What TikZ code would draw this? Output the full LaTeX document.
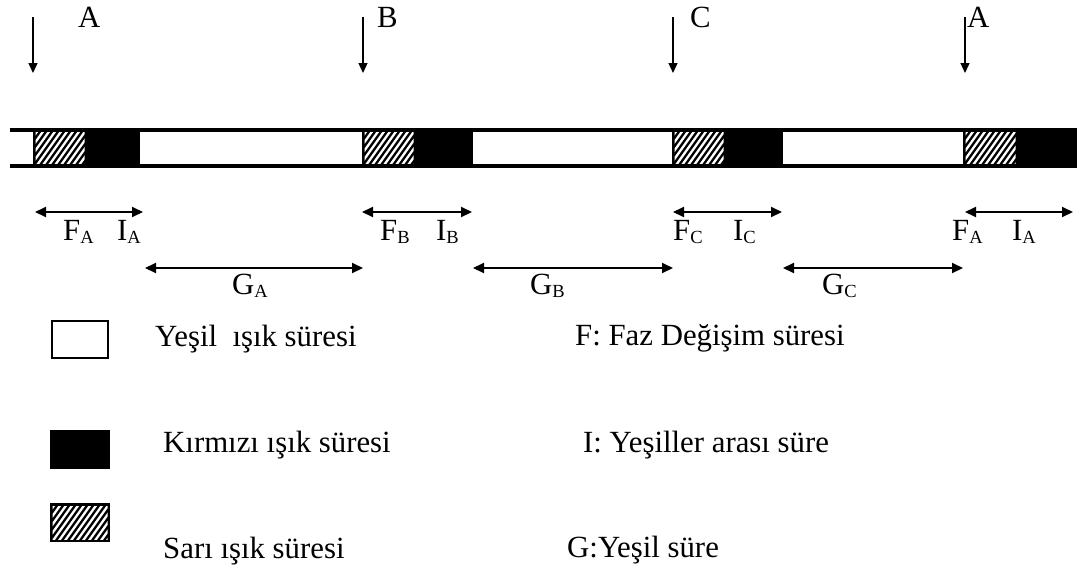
\documentclass[tikz,border=0pt]{standalone}
\usepackage{fontspec}
\setmainfont{Liberation Serif}
\usetikzlibrary{arrows.meta}

% label with a lowered, smaller subscript letter
\newcommand\lbl[2]{#1\raisebox{-3pt}{\fontsize{18.5}{18.5}\selectfont #2}}

% amber interval: black block with white diagonal stripes
\newcommand\hatchbox[4]{%
  \fill[black] (#1,#2) rectangle (#3,#4);
  \begin{scope}
    \clip ({#1+2.5},{#2+3}) rectangle ({#3-2.5},{#4-3});
    \foreach \s in {-40,-34,...,80}
      \draw[white,line width=2.3pt] ({#1+\s},{#4}) -- ++(30,-42);
  \end{scope}}

\tikzset{
  txt/.style={anchor=base west,inner sep=0pt,font=\fontsize{30.8}{30.8}\selectfont},
  downarrow/.style={line width=1.3pt,-{Triangle[length=10pt,width=9pt]}},
  span/.style={line width=2pt,{Triangle[length=11pt,width=10pt]}-{Triangle[length=11pt,width=10pt]}},
  barline/.style={line width=4pt},
}

\begin{document}
\begin{tikzpicture}[x=1pt,y=-1pt]
\useasboundingbox (0,0) rectangle (1082,574);

% ---- phase markers ----
\foreach \n/\x in {pA/33, pB/363, pC/673, pA2/965}{
  \coordinate (\n-top) at (\x,17);
  \coordinate (\n-tip) at (\x,73);
}
\draw[downarrow] (pA-top) -- (pA-tip);
\draw[downarrow] (pB-top) -- (pB-tip);
\draw[downarrow] (pC-top) -- (pC-tip);
\draw[downarrow] (pA2-top) -- (pA2-tip);
\node[txt] (tA)  at (78,27)  {A};
\node[txt] (tB)  at (377,27) {B};
\node[txt] (tC)  at (690,27) {C};
\node[txt] (tA2) at (967,27) {A};

% ---- signal timeline bar ----
% red intervals
\fill[black] (87,128) rectangle (140,168);
\fill[black] (416,128) rectangle (473,168);
\fill[black] (726,128) rectangle (783,168);
\fill[black] (1018,128) rectangle (1077,168);
% amber intervals
\hatchbox{33}{128}{87}{168}
\hatchbox{362}{128}{416}{168}
\hatchbox{672}{128}{726}{168}
\hatchbox{963}{128}{1018}{168}
% outline
\draw[barline] (10,130) -- (1077,130);
\draw[barline] (10,166) -- (1077,166);

% ---- interval spans ----
\foreach \n/\a/\b in {fA/35/143, fB/362/472, fC/673/782, fA2/965/1073}{
  \coordinate (\n-s) at (\a,212);
  \coordinate (\n-e) at (\b,212);
}
\foreach \n/\a/\b in {gA/145/363, gB/473/673, gC/783/963}{
  \coordinate (\n-s) at (\a,268);
  \coordinate (\n-e) at (\b,268);
}
\draw[span] (fA-s) -- (fA-e);
\draw[span] (fB-s) -- (fB-e);
\draw[span] (fC-s) -- (fC-e);
\draw[span] (fA2-s) -- (fA2-e);
\draw[span] (gA-s) -- (gA-e);
\draw[span] (gB-s) -- (gB-e);
\draw[span] (gC-s) -- (gC-e);

\node[txt] (lFA)  at (63,240)   {\lbl{F}{A}};
\node[txt] (lIA)  at (117,240)  {\lbl{I}{A}};
\node[txt] (lFB)  at (380,240)  {\lbl{F}{B}};
\node[txt] (lIB)  at (436,240)  {\lbl{I}{B}};
\node[txt] (lFC)  at (673,240)  {\lbl{F}{C}};
\node[txt] (lIC)  at (733,240)  {\lbl{I}{C}};
\node[txt] (lFA2) at (952,240)  {\lbl{F}{A}};
\node[txt] (lIA2) at (1012,240) {\lbl{I}{A}};
\node[txt] (lGA)  at (232,294)  {\lbl{G}{A}};
\node[txt] (lGB)  at (530,294)  {\lbl{G}{B}};
\node[txt] (lGC)  at (822,294)  {\lbl{G}{C}};

% ---- legend ----
\draw[line width=1.8pt] (52,321) rectangle (108,358);
\fill[black] (50,430) rectangle (110,469);
\hatchbox{50}{503}{110}{542}

\node[txt] (kG) at (155,346) {Yeşil\ \ ışık süresi};
\node[txt] (kR) at (163,452) {Kırmızı ışık süresi};
\node[txt] (kY) at (163,558) {Sarı ışık süresi};

\node[txt] (dF) at (575,345) {F: Faz Değişim süresi};
\node[txt] (dI) at (583,452) {I:\ Yeşiller arası süre};
\node[txt] (dG) at (567,557) {G:Yeşil süre};
\end{tikzpicture}
\end{document}
